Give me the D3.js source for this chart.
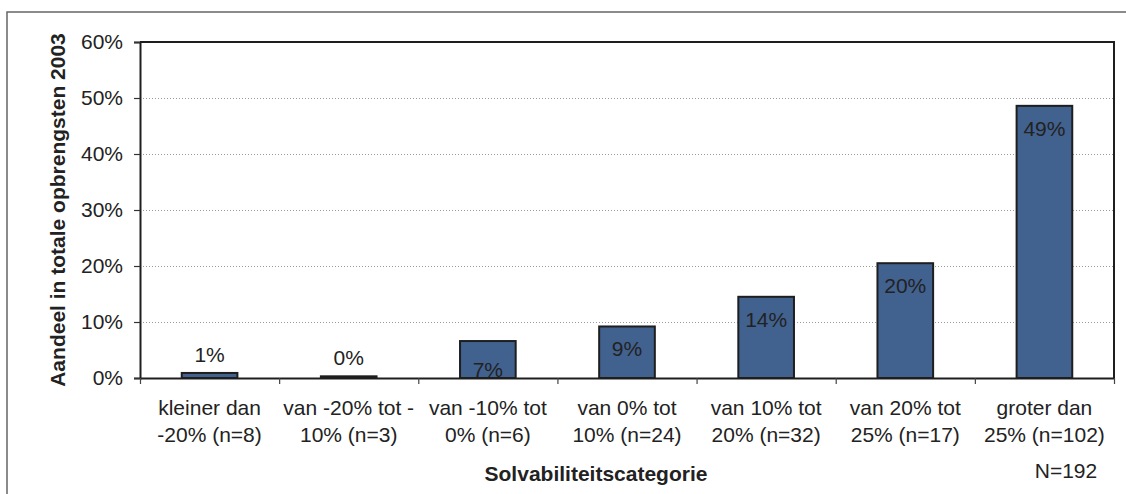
<!DOCTYPE html>
<html>
<head>
<meta charset="utf-8">
<script src="https://cdn.jsdelivr.net/npm/d3@7"></script>
<style>
  html, body { margin: 0; padding: 0; background: #fff; }
  svg { display: block; }
  text { font-family: "Liberation Sans", Arial, sans-serif; fill: #222; }
</style>
</head>
<body>
<script>
// ---- data ----
const categories = ["c1", "c2", "c3", "c4", "c5", "c6", "c7"];
const categoryLine1 = ["kleiner dan", "van -20% tot -", "van -10% tot", "van 0% tot", "van 10% tot", "van 20% tot", "groter dan"];
const categoryLine2 = ["-20% (n=8)", "10% (n=3)", "0% (n=6)", "10% (n=24)", "20% (n=32)", "25% (n=17)", "25% (n=102)"];
const values = [0.9, 0.3, 6.6, 9.2, 14.5, 20.5, 48.6];
const valueLabels = ["1%", "0%", "7%", "9%", "14%", "20%", "49%"];
const yTicks = [0, 10, 20, 30, 40, 50, 60];
const yTitle = "Aandeel in totale opbrengsten 2003";
const xTitle = "Solvabiliteitscategorie";
const note = "N=192";

// ---- layout ----
const W = 1126, H = 494;
const plot = { left: 140, right: 1114, top: 42, bottom: 378 };

const svg = d3.select("body").append("svg").attr("width", W).attr("height", H);

// outer chart border (extends beyond the visible area)
svg.append("rect")
  .attr("x", 7).attr("y", 12).attr("width", 1300).attr("height", 700)
  .attr("fill", "none").attr("stroke", "#666").attr("stroke-width", 1.5);

const x = d3.scaleBand().domain(categories).range([plot.left, plot.right]).paddingInner(0.6).paddingOuter(0.3);
const xEdges = d3.scaleLinear().domain([0, categories.length]).range([plot.left, plot.right]);
const y = d3.scaleLinear().domain([0, 60]).range([plot.bottom, plot.top]);

// gridlines
svg.append("g").selectAll("line").data(yTicks.filter(t => t > 0 && t < 60)).join("line")
  .attr("x1", plot.left).attr("x2", plot.right)
  .attr("y1", d => Math.round(y(d)) + 0.5).attr("y2", d => Math.round(y(d)) + 0.5)
  .attr("stroke", "#9a9a9a").attr("stroke-width", 1).attr("stroke-dasharray", "1,2");

// bars
svg.append("g").selectAll("rect").data(values).join("rect")
  .attr("x", (d, i) => x(categories[i]))
  .attr("width", x.bandwidth())
  .attr("y", d => y(d))
  .attr("height", d => y(0) - y(d))
  .attr("fill", "#41618f")
  .attr("stroke", "#1e1e1e").attr("stroke-width", 2);

// value labels (inside end; short bars push the label to the base; tiny bars outside)
svg.append("g").selectAll("text").data(values).join("text")
  .attr("x", (d, i) => x(categories[i]) + x.bandwidth() / 2)
  .attr("y", d => d >= 5 ? ((y(0) - y(d)) < 45 ? y(0) - 1 : y(d) + 30) : y(d) - 11)
  .attr("text-anchor", "middle")
  .attr("font-size", 21)
  .text((d, i) => valueLabels[i]);

// plot frame (top & right)
svg.append("path")
  .attr("d", `M${plot.left},${plot.top}H${plot.right}V${plot.bottom}`)
  .attr("fill", "none").attr("stroke", "#1e1e1e").attr("stroke-width", 2);

// y axis
const yAxis = d3.axisLeft(y).tickValues(yTicks).tickFormat(d => d + "%").tickSize(6).tickPadding(11);
const gy = svg.append("g").attr("transform", `translate(${plot.left},0)`).call(yAxis);
gy.select(".domain").attr("stroke", "#1e1e1e").attr("stroke-width", 2);
gy.selectAll(".tick line").attr("stroke", "#333").attr("stroke-width", 1.2);
gy.selectAll(".tick text").attr("font-size", 21).attr("font-family", '"Liberation Sans", Arial, sans-serif').attr("fill", "#222");

// x axis: ticks at category boundaries
const xAxis = d3.axisBottom(xEdges).tickValues(d3.range(categories.length + 1)).tickFormat("").tickSize(6).tickSizeOuter(0);
const gx = svg.append("g").attr("transform", `translate(0,${plot.bottom})`).call(xAxis);
gx.select(".domain").attr("stroke", "#1e1e1e").attr("stroke-width", 2);
gx.selectAll(".tick line").attr("stroke", "#444").attr("stroke-width", 1.2);

// category labels
const catG = svg.append("g");
categories.forEach((c, i) => {
  const cx = x(c) + x.bandwidth() / 2;
  const t = catG.append("text").attr("x", cx).attr("y", 415).attr("text-anchor", "middle").attr("font-size", 21);
  t.append("tspan").attr("x", cx).attr("y", 415).text(categoryLine1[i]);
  t.append("tspan").attr("x", cx).attr("y", 442).text(categoryLine2[i]);
});

// axis titles
svg.append("text")
  .attr("transform", `translate(65,${(plot.top + plot.bottom) / 2}) rotate(-90)`)
  .attr("text-anchor", "middle").attr("font-size", 21).attr("font-weight", "bold")
  .text(yTitle);

svg.append("text")
  .attr("x", 596).attr("y", 481)
  .attr("text-anchor", "middle").attr("font-size", 21).attr("font-weight", "bold")
  .text(xTitle);

svg.append("text")
  .attr("x", 1066).attr("y", 478)
  .attr("text-anchor", "middle").attr("font-size", 21)
  .text(note);
</script>
</body>
</html>
